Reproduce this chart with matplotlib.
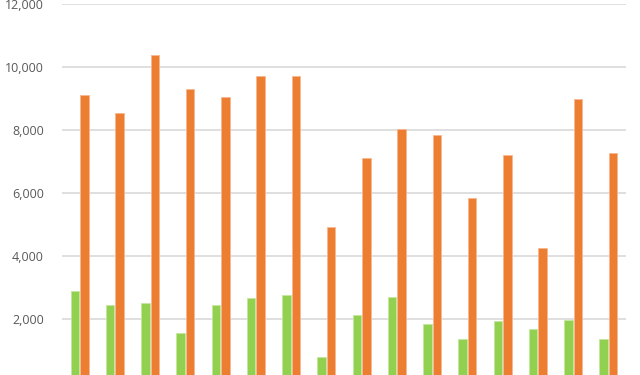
import matplotlib
matplotlib.use("Agg")
import matplotlib.pyplot as plt
import numpy as np

categories = [f"C{i+1}" for i in range(16)]
green_values = [2890, 2430, 2515, 1550, 2430, 2675, 2760, 780,
                2125, 2705, 1840, 1360, 1940, 1695, 1980, 1360]
orange_values = [9120, 8550, 10380, 9300, 9060, 9700, 9700, 4910,
                 7110, 8030, 7840, 5850, 7200, 4255, 8980, 7285]
y_ticks = [2000, 4000, 6000, 8000, 10000, 12000]
y_tick_labels = ["2,000", "4,000", "6,000", "8,000", "10,000", "12,000"]

fig = plt.figure(figsize=(6.4, 3.75), dpi=100)
ax = fig.add_axes([62/640, (375-382)/375, (626-62)/640, 378/375])

x = np.arange(len(categories))
w = 0.24
off = 0.135
ax.bar(x - off, green_values, width=w, color="#92D050", edgecolor="#c5e6a0", linewidth=0.6, zorder=3)
ax.bar(x + off, orange_values, width=w, color="#ED7D31", edgecolor="#f6b891", linewidth=0.6, zorder=3)

ax.set_xlim(-0.5, len(categories) - 0.5)
ax.set_ylim(0, 12000)
ax.set_yticks(y_ticks)
ax.set_yticklabels(y_tick_labels)
ax.set_xticks([])
ax.yaxis.grid(True, color="#d9d9d9", linewidth=1.2, zorder=0)
for s in ax.spines.values():
    s.set_visible(False)
ax.tick_params(axis="y", length=0, pad=13, labelsize=9, labelcolor="#595959")
for lab in ax.get_yticklabels():
    lab.set_fontfamily(["Open Sans", "DejaVu Sans"])

fig.savefig("out.png", dpi=100)
